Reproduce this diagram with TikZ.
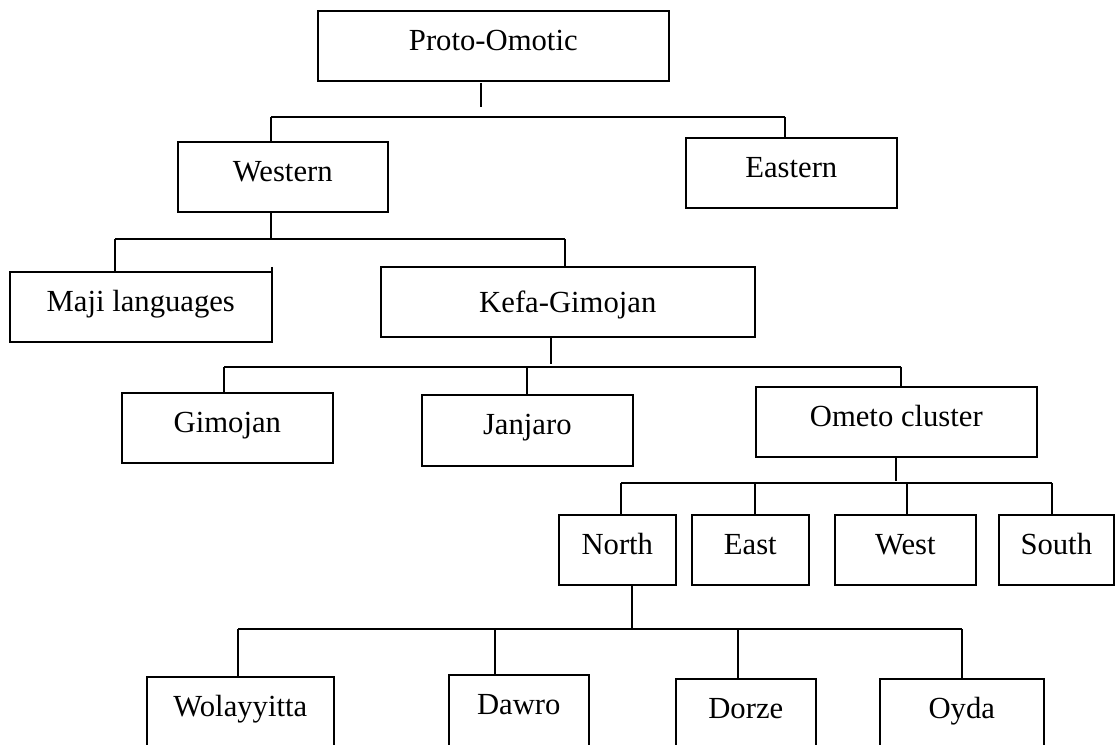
\documentclass[tikz,border=0pt]{standalone}
\usepackage{fontspec}
\setmainfont{Liberation Serif}
\begin{document}
\begin{tikzpicture}[x=0.75pt,y=-0.75pt,
  line width=1.2pt,
  box/.style={draw, line width=1.2pt, inner sep=0pt, anchor=north west,
    text height=30pt, text depth=22.5pt, font=\fontsize{23}{27}\selectfont},
  lowbox/.style={box, text depth=28pt},
  conn/.style={draw, line width=1.2pt}]
\useasboundingbox (0,0) rectangle (1115,745);
\clip (0,0) rectangle (1115,745);
% boxes
\node[box, minimum width=263.25pt] (proto) at (317,10) {Proto-Omotic};
\node[box, minimum width=157.5pt] (western) at (177,141) {Western};
\node[box, minimum width=158.25pt] (eastern) at (685,137) {Eastern};
\node[box, minimum width=196.5pt] (maji) at (9,271) {Maji languages};
\node[box, minimum width=280.5pt, text height=34.5pt, text depth=18pt] (kefa) at (380,266) {Kefa-Gimojan};
\node[box, minimum width=158.25pt] (gimojan) at (121,392) {Gimojan};
\node[box, minimum width=158.25pt, text depth=23.25pt] (janjaro) at (421,394) {Janjaro};
\node[box, minimum width=210.75pt] (ometo) at (755,386) {Ometo cluster};
\node[box, minimum width=87.75pt] (north) at (558,514) {North};
\node[box, minimum width=87.75pt] (east) at (691,514) {East};
\node[box, minimum width=105.75pt] (west) at (834,514) {West};
\node[box, minimum width=86.25pt] (south) at (998,514) {South};
\node[lowbox, minimum width=140.25pt] (wol) at (146,676) {Wolayyitta};
\node[lowbox, minimum width=105pt] (dawro) at (448,674) {Dawro};
\node[lowbox, minimum width=105pt] (dorze) at (675,678) {Dorze};
\node[lowbox, minimum width=123pt] (oyda) at (879,678) {Oyda};
% small overshoot at the top right corner of the Maji box
\coordinate (mt) at (272,267);
\coordinate (mb) at (272,290);
\draw[conn] (mt) -- (mb);
% level 1
\coordinate (s1a) at (481,83);
\coordinate (s1b) at (481,107);
\coordinate (b1l) at (271,117);
\coordinate (b1r) at (785,117);
\draw[conn] (s1a) -- (s1b);
\draw[conn] (b1l) -- (b1r);
\draw[conn] (b1l) -- (b1l |- western.north);
\draw[conn] (b1r) -- (b1r |- eastern.north);
% level 2
\coordinate (b2l) at (115,239);
\coordinate (b2m) at (271,239);
\coordinate (b2r) at (565,239);
\draw[conn] (b2m |- western.south) -- (b2m);
\draw[conn] (b2l) -- (b2r);
\draw[conn] (b2l) -- (b2l |- maji.north);
\draw[conn] (b2r) -- (b2r |- kefa.north);
% level 3
\coordinate (k3) at (551,364);
\coordinate (b3l) at (224,367);
\coordinate (b3m) at (527,367);
\coordinate (b3r) at (901,367);
\draw[conn] (k3 |- kefa.south) -- (k3);
\draw[conn] (b3l) -- (b3r);
\draw[conn] (b3l) -- (b3l |- gimojan.north);
\draw[conn] (b3m) -- (b3m |- janjaro.north);
\draw[conn] (b3r) -- (b3r |- ometo.north);
% level 4
\coordinate (o4) at (896,481);
\coordinate (b4a) at (621,483);
\coordinate (b4b) at (755,483);
\coordinate (b4c) at (907,483);
\coordinate (b4d) at (1052,483);
\draw[conn] (o4 |- ometo.south) -- (o4);
\draw[conn] (b4a) -- (b4d);
\draw[conn] (b4a) -- (b4a |- north.north);
\draw[conn] (b4b) -- (b4b |- east.north);
\draw[conn] (b4c) -- (b4c |- west.north);
\draw[conn] (b4d) -- (b4d |- south.north);
% level 5
\coordinate (n5) at (632,629);
\coordinate (b5a) at (238,629);
\coordinate (b5b) at (495,629);
\coordinate (b5c) at (738,629);
\coordinate (b5d) at (962,629);
\draw[conn] (n5 |- north.south) -- (n5);
\draw[conn] (b5a) -- (b5d);
\draw[conn] (b5a) -- (b5a |- wol.north);
\draw[conn] (b5b) -- (b5b |- dawro.north);
\draw[conn] (b5c) -- (b5c |- dorze.north);
\draw[conn] (b5d) -- (b5d |- oyda.north);
\end{tikzpicture}
\end{document}
